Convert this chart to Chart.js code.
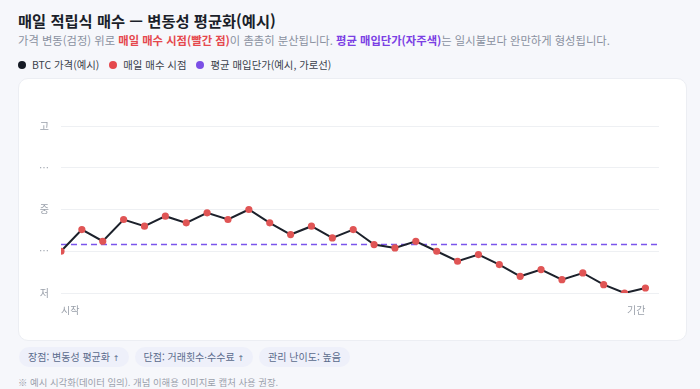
<!DOCTYPE html>
<html lang="ko">
<head>
<meta charset="utf-8">
<script src="https://cdn.jsdelivr.net/npm/chart.js@4/dist/chart.umd.min.js"></script>
<style>
  html, body { margin: 0; padding: 0; }
  body {
    width: 700px; height: 389px; overflow: hidden;
    background: #f6f7fb;
    font-family: "Noto Sans CJK KR", "Noto Sans", sans-serif;
    color: #1f2430;
    position: relative;
  }
  .title { position: absolute; left: 18px; top: 9px; font-size: 15.3px; font-weight: 700; color: #1b1f2a; }
  .sub { position: absolute; left: 18px; top: 32px; font-size: 11.3px; color: #8a91a0; }
  .sub .red { color: #e5484d; font-weight: 700; }
  .sub .pur { color: #7b3fe4; font-weight: 700; }
  .legend { position: absolute; left: 18px; top: 57px; font-size: 10.4px; color: #3a3f4b; display: flex; gap: 10px; }
  .legend span { display: inline-flex; align-items: center; }
  .legend i { display: inline-block; width: 8px; height: 8px; border-radius: 50%; margin-right: 6px; }
  .card {
    position: absolute; left: 18px; top: 78px; width: 669px; height: 263px;
    background: #fff; border: 1px solid #eceef3; border-radius: 10px; box-sizing: border-box;
  }
  .card canvas { position: absolute; left: 0; top: 0; }
  .pills { position: absolute; left: 19px; top: 347px; display: flex; gap: 6px; }
  .pill { background: #eef0fa; color: #5a6b8c; font-size: 10px; height: 20px; line-height: 20px; padding: 0 9px; border-radius: 10px; }
  .pill b { font-weight: 400; font-family: "DejaVu Sans", sans-serif; font-size: 8px; }
  .pill em { font-style: normal; font-family: "Noto Sans", sans-serif; }
  .note { position: absolute; left: 18px; top: 375px; font-size: 9.4px; color: #9aa0ab; }
</style>
</head>
<body>
<div class="title">매일 적립식 매수 — 변동성 평균화(예시)</div>
<div class="sub">가격 변동(검정) 위로 <span class="red">매일 매수 시점(빨간 점)</span>이 촘촘히 분산됩니다. <span class="pur">평균 매입단가(자주색)</span>는 일시불보다 완만하게 형성됩니다.</div>
<div class="legend">
  <span><i style="background:#151a24"></i>BTC 가격(예시)</span>
  <span><i style="background:#e5484d"></i>매일 매수 시점</span>
  <span><i style="background:#7b4fe6"></i>평균 매입단가(예시, 가로선)</span>
</div>
<div class="card"><canvas id="c" width="667" height="261"></canvas></div>
<div class="pills">
  <div class="pill">장점: 변동성 평균화 <b>↑</b></div>
  <div class="pill">단점: 거래횟수<em>·</em>수수료 <b>↑</b></div>
  <div class="pill">관리 난이도: 높음</div>
</div>
<div class="note">※ 예시 시각화(데이터 임의). 개념 이해용 이미지로 캡처 사용 권장.</div>
<script>
// 가격 (0 = 저, 100 = 고)
var price = [25, 38, 31, 44, 40, 46, 42, 48, 44, 50, 42, 35, 40, 33, 38, 29, 27, 31, 25, 19, 23, 17, 10, 14, 8, 12, 5, 0, 3];
var avgCost = 29;
var levelLabels = ['저', '…', '중', '…', '고'];
var startLabel = '시작';
var endLabel = '기간';
var xMax = 28.65;

var pricePoints = price.map(function(v, i) { return { x: i, y: v }; });
var avgPoints = [{ x: 0, y: avgCost }, { x: xMax, y: avgCost }];

var ctx = document.getElementById('c').getContext('2d');
new Chart(ctx, {
  type: 'line',
  data: {
    datasets: [{
      label: 'BTC 가격(예시)',
      data: pricePoints,
      borderColor: '#1c212b',
      borderWidth: 2,
      pointBackgroundColor: '#e05555',
      pointBorderColor: '#e05555',
      pointRadius: 2.6,
      tension: 0
    }, {
      label: '평균 매입단가',
      data: avgPoints,
      borderColor: '#7b55ec',
      borderWidth: 1.6,
      borderDash: [6, 4],
      pointRadius: 0,
      tension: 0
    }]
  },
  options: {
    responsive: false,
    animation: false,
    layout: { padding: { top: 47, right: 27, left: 8, bottom: 21 } },
    plugins: { legend: { display: false }, tooltip: { enabled: false } },
    scales: {
      x: {
        type: 'linear',
        min: 0,
        max: xMax,
        afterBuildTicks: function(axis) {
          axis.ticks = [{ value: 0 }, { value: price.length - 1 }];
        },
        ticks: {
          align: 'inner',
          color: '#9aa0aa',
          font: { size: 10, family: '"Noto Sans CJK KR"' },
          maxRotation: 0,
          callback: function(v) { return v === 0 ? startLabel : endLabel; }
        },
        grid: { display: false },
        border: { display: false }
      },
      y: {
        min: 0,
        max: 100,
        ticks: {
          stepSize: 25,
          padding: 12,
          color: '#9aa0aa',
          font: { size: 10, family: '"Noto Sans CJK KR"' },
          callback: function(v) { return levelLabels[v / 25]; }
        },
        grid: { color: '#eef0f3', drawTicks: false },
        border: { display: false }
      }
    }
  }
});
</script>
</body>
</html>
